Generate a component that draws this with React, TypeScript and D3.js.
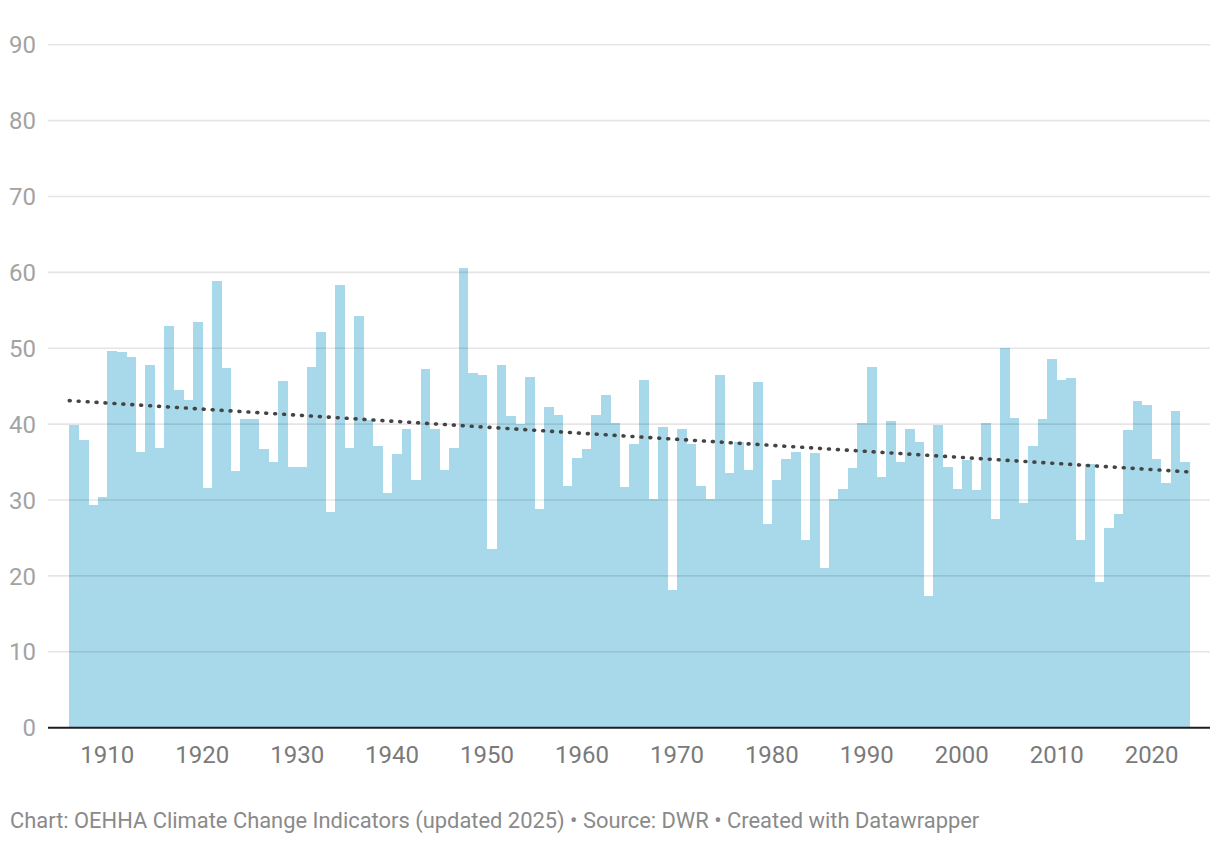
import React, { useEffect, useRef } from 'react';
import * as d3 from 'd3';

// April 1 snow water content (% of average), one bar per year
const firstYear = 1906;
const values: number[] = [
  39.9, 37.9, 29.3, 30.4, 49.7, 49.5, 48.9, 36.3, 47.8, 36.9,
  52.9, 44.5, 43.2, 53.4, 31.6, 58.8, 47.4, 33.8, 40.7, 40.7,
  36.7, 35.0, 45.7, 34.4, 34.3, 47.5, 52.1, 28.4, 58.4, 36.9,
  54.3, 40.5, 37.1, 30.9, 36.1, 39.4, 32.6, 47.3, 39.3, 33.9,
  36.9, 60.6, 46.7, 46.5, 23.6, 47.8, 41.1, 40.0, 46.2, 28.8,
  42.3, 41.2, 31.9, 35.6, 36.7, 41.2, 43.9, 40.1, 31.7, 37.4,
  45.8, 30.2, 39.6, 18.1, 39.4, 37.4, 31.8, 30.2, 46.5, 33.6,
  37.7, 34.0, 45.5, 26.9, 32.7, 35.4, 36.3, 24.7, 36.2, 21.1,
  30.2, 31.5, 34.2, 40.1, 47.5, 33.0, 40.4, 35.0, 39.4, 37.6,
  17.3, 39.9, 34.3, 31.5, 35.3, 31.3, 40.1, 27.5, 50.0, 40.8,
  29.6, 37.1, 40.7, 48.6, 45.8, 46.1, 24.7, 34.7, 19.2, 26.3,
  28.2, 39.2, 43.0, 42.5, 35.4, 32.3, 41.7, 35.0,
];
const years = values.map((_, i) => firstYear + i);

// linear trend
const trendYears = [1906, 2024];
const trendValues = [43.1, 33.7];

const yTicks = [0, 10, 20, 30, 40, 50, 60, 70, 80, 90];
const xTicks = [1910, 1920, 1930, 1940, 1950, 1960, 1970, 1980, 1990, 2000, 2010, 2020];

const footer =
  'Chart: OEHHA Climate Change Indicators (updated 2025) • Source: DWR • Created with Datawrapper';

const font = 'Roboto, "Noto Sans", sans-serif';

const App: React.FC = () => {
  const svgRef = useRef<SVGSVGElement | null>(null);

  useEffect(() => {
    document.body.style.margin = '0';
    if (!svgRef.current) return;

    const plotLeft = 48;
    const plotRight = 1210;

    const svg = d3.select(svgRef.current);
    svg.selectAll('*').remove();

    const x = d3
      .scaleLinear()
      .domain([firstYear, firstYear + values.length])
      .range([69.3, 1189.6]);
    const y = d3.scaleLinear().domain([0, 90]).range([727.7, 44.7]);

    // bars, no gaps between years
    svg
      .append('g')
      .attr('shape-rendering', 'crispEdges')
      .selectAll('rect')
      .data(values)
      .join('rect')
      .attr('x', (_, i) => x(years[i]))
      .attr('width', (_, i) => x(years[i] + 1) - x(years[i]) + 0.3)
      .attr('y', d => y(d))
      .attr('height', d => y(0) - y(d))
      .attr('fill', '#a8d9ea');

    // gridlines on top of the bars, semi-transparent
    svg
      .append('g')
      .selectAll('line')
      .data(yTicks.filter(t => t > 0))
      .join('line')
      .attr('x1', plotLeft)
      .attr('x2', plotRight)
      .attr('y1', d => y(d))
      .attr('y2', d => y(d))
      .attr('stroke', 'rgba(0,0,0,0.1)')
      .attr('stroke-width', 1.6);

    // y labels
    svg
      .append('g')
      .selectAll('text')
      .data(yTicks)
      .join('text')
      .attr('x', 36)
      .attr('y', d => y(d))
      .attr('dy', '0.36em')
      .attr('text-anchor', 'end')
      .attr('font-family', font)
      .attr('font-size', 24)
      .attr('fill', '#a3a3a3')
      .text(d => d);

    // baseline
    svg
      .append('line')
      .attr('x1', plotLeft)
      .attr('x2', plotRight)
      .attr('y1', y(0))
      .attr('y2', y(0))
      .attr('stroke', '#1d1d1d')
      .attr('stroke-width', 2);

    // x labels
    svg
      .append('g')
      .selectAll('text')
      .data(xTicks)
      .join('text')
      .attr('x', d => x(d))
      .attr('y', 762.5)
      .attr('text-anchor', 'middle')
      .attr('font-family', font)
      .attr('font-size', 24)
      .attr('fill', '#7a7a7a')
      .text(d => d);

    // dotted trend line
    const trend = d3
      .line<number>()
      .x((_, i) => x(trendYears[i]))
      .y(d => y(d));
    svg
      .append('path')
      .attr('d', trend(trendValues))
      .attr('fill', 'none')
      .attr('stroke', '#444444')
      .attr('stroke-width', 3.6)
      .attr('stroke-linecap', 'round')
      .attr('stroke-dasharray', '0.9 8.05');

    svg
      .append('text')
      .attr('x', 10)
      .attr('y', 828)
      .attr('font-family', font)
      .attr('font-size', 21.9)
      .attr('fill', '#8a8a8a')
      .text(footer);
  }, []);

  return <svg ref={svgRef} width={1220} height={844} style={{ display: 'block' }} />;
};

export default App;
